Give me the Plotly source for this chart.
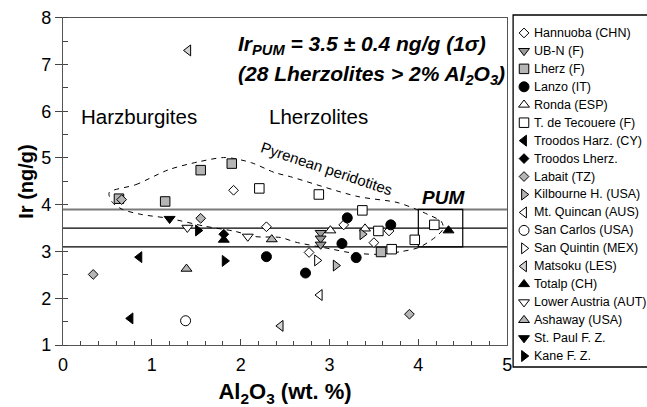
import plotly.graph_objects as go

# ---- Ir (ng/g) versus Al2O3 (wt. %) for mantle peridotites ----
HANNUOBA_AL = [1.92, 2.29, 3.16, 3.67, 3.50, 2.77]
HANNUOBA_IR = [4.31, 3.53, 3.57, 3.44, 3.19, 2.98]
UBN_AL = [2.90, 2.90, 2.90]
UBN_IR = [3.40, 3.28, 3.15]
LHERZ_AL = [0.63, 1.15, 1.55, 1.90, 3.58]
LHERZ_IR = [4.13, 4.07, 4.74, 4.88, 2.99]
LANZO_AL = [3.20, 3.69, 3.14, 2.29, 3.30, 2.73]
LANZO_IR = [3.72, 3.57, 3.17, 2.89, 2.87, 2.54]
RONDA_AL = [3.01, 3.40]
RONDA_IR = [3.45, 3.49]
TECOUERE_AL = [2.21, 2.88, 3.37, 3.55, 3.70, 3.96, 4.18]
TECOUERE_IR = [4.35, 4.22, 3.88, 3.44, 3.05, 3.25, 3.57]
TROODOS_HARZ_AL = [0.86, 0.76]
TROODOS_HARZ_IR = [2.88, 1.57]
TROODOS_LHERZ_AL = [1.81]
TROODOS_LHERZ_IR = [3.37]
LABAIT_AL = [0.66, 1.55, 0.34, 3.90]
LABAIT_IR = [4.11, 3.71, 2.51, 1.66]
KILBOURNE_AL = [3.37, 3.07]
KILBOURNE_IR = [3.37, 2.70]
MT_QUINCAN_AL = [2.89]
MT_QUINCAN_IR = [2.07]
SAN_CARLOS_AL = [1.38]
SAN_CARLOS_IR = [1.52]
SAN_QUINTIN_AL = [2.86]
SAN_QUINTIN_IR = [2.81]
MATSOKU_AL = [1.41, 2.45]
MATSOKU_IR = [7.30, 1.41]
TOTALP_AL = [1.81, 4.34]
TOTALP_IR = [3.25, 3.45]
LOWER_AUSTRIA_AL = [1.40, 2.08]
LOWER_AUSTRIA_IR = [3.51, 3.32]
ASHAWAY_AL = [2.35, 1.39]
ASHAWAY_IR = [3.26, 2.63]
ST_PAUL_AL = [1.20]
ST_PAUL_IR = [3.70]
KANE_AL = [1.52, 1.82]
KANE_IR = [3.45, 2.80]

# Primitive upper mantle estimate
PUM_IR = 3.5
PUM_SIGMA = 0.4
PUM_N = 28
PUM_AL_RANGE = [4.0, 4.5]

# Hand-drawn outline around the Pyrenean peridotites (closed loop)
PYRENEAN_AL = [0.52, 0.82, 1.19, 1.53, 1.83, 2.12, 2.38, 2.56, 3.31, 3.76, 3.98,
               4.11, 4.26, 4.28, 4.20, 4.01, 3.81, 3.53, 3.22, 3.03, 2.62, 2.45,
               2.16, 1.94, 1.60, 1.19, 0.89, 0.67, 0.556, 0.52]
PYRENEAN_IR = [4.26, 4.43, 4.75, 4.92, 5.01, 4.90, 4.69, 4.60, 4.18, 4.05, 3.90,
               3.79, 3.64, 3.49, 3.32, 3.09, 3.00, 2.94, 2.98, 3.05, 3.20, 3.30,
               3.32, 3.43, 3.54, 3.71, 3.79, 3.90, 4.05, 4.26]

X_TICKS = [0, 1, 2, 3, 4, 5]
Y_TICKS = [1, 2, 3, 4, 5, 6, 7, 8]

GRAY = "#b5b5b5"
WHITE = "white"
BLACK = "black"

# name, x, y, symbol, fill, size
SERIES = [
    ("Hannuoba (CHN)", HANNUOBA_AL, HANNUOBA_IR, "diamond", WHITE, 7.5),
    ("UB-N (F)", UBN_AL, UBN_IR, "triangle-down", "#9a9a9a", 9.5),
    ("Lherz (F)", LHERZ_AL, LHERZ_IR, "square", GRAY, 9.5),
    ("Lanzo (IT)", LANZO_AL, LANZO_IR, "circle", BLACK, 10),
    ("Ronda (ESP)", RONDA_AL, RONDA_IR, "triangle-up", WHITE, 9.5),
    ("T. de Tecouere (F)", TECOUERE_AL, TECOUERE_IR, "square", WHITE, 9.5),
    ("Troodos Harz. (CY)", TROODOS_HARZ_AL, TROODOS_HARZ_IR, "triangle-left", BLACK, 9.5),
    ("Troodos Lherz.", TROODOS_LHERZ_AL, TROODOS_LHERZ_IR, "diamond", BLACK, 7.5),
    ("Labait (TZ)", LABAIT_AL, LABAIT_IR, "diamond", GRAY, 7.5),
    ("Kilbourne H. (USA)", KILBOURNE_AL, KILBOURNE_IR, "triangle-right", GRAY, 9.5),
    ("Mt. Quincan (AUS)", MT_QUINCAN_AL, MT_QUINCAN_IR, "triangle-left", WHITE, 9.5),
    ("San Carlos (USA)", SAN_CARLOS_AL, SAN_CARLOS_IR, "circle", WHITE, 10),
    ("San Quintin (MEX)", SAN_QUINTIN_AL, SAN_QUINTIN_IR, "triangle-right", WHITE, 9.5),
    ("Matsoku (LES)", MATSOKU_AL, MATSOKU_IR, "triangle-left", "#d4d4d4", 9.5),
    ("Totalp (CH)", TOTALP_AL, TOTALP_IR, "triangle-up", BLACK, 9.5),
    ("Lower Austria (AUT)", LOWER_AUSTRIA_AL, LOWER_AUSTRIA_IR, "triangle-down", WHITE, 9.5),
    ("Ashaway (USA)", ASHAWAY_AL, ASHAWAY_IR, "triangle-up", GRAY, 9.5),
    ("St. Paul F. Z.", ST_PAUL_AL, ST_PAUL_IR, "triangle-down", BLACK, 9.5),
    ("Kane F. Z.", KANE_AL, KANE_IR, "triangle-right", BLACK, 9.5),
]

FONT = "Liberation Sans, Arial, Helvetica, sans-serif"

# ---- page geometry (pixels) ----
W, H = 647, 407
ML, MT, MB = 63, 15, 39
PAPER_W = W - ML
PAPER_H = H - MT - MB
PLOT_RIGHT = 511
PLOT_TOP, PLOT_BOTTOM = 17.7, 346
KEY_LEFT = 517
KEY_MARK_X, KEY_TEXT_X = 528, 536
KEY_ROW0, KEY_STEP = 33, 18
Y_TITLE_X = 26


def px_x(p):
    return (p - ML) / PAPER_W


def px_y(p):
    return (H - MB - p) / PAPER_H


fig = go.Figure()

# dashed outline of the Pyrenean field
fig.add_trace(go.Scatter(
    x=PYRENEAN_AL, y=PYRENEAN_IR, mode="lines",
    line=dict(color="black", width=1, dash="5px,5px", shape="spline", smoothing=0.8),
    hoverinfo="skip", showlegend=False))

for name, xs, ys, sym, fill, size in SERIES:
    fig.add_trace(go.Scatter(
        x=xs, y=ys, mode="markers", name=name, showlegend=False,
        marker=dict(symbol=sym, size=size, color=fill,
                    line=dict(color="black", width=1))))

annotations = []

# key: one marker per series on its own hidden axes, labels beside them
for i, (name, xs, ys, sym, fill, size) in enumerate(SERIES):
    row = KEY_ROW0 - MT + KEY_STEP * i
    fig.add_trace(go.Scatter(
        x=[KEY_MARK_X - KEY_LEFT], y=[row], mode="markers", xaxis="x2", yaxis="y2",
        showlegend=False, hoverinfo="skip", cliponaxis=False,
        marker=dict(symbol=sym, size=size, color=fill,
                    line=dict(color="black", width=1))))
    annotations.append(dict(
        x=px_x(KEY_TEXT_X), y=px_y(KEY_ROW0 + KEY_STEP * i), xref="paper", yref="paper",
        text=name, showarrow=False, xanchor="left", yanchor="middle",
        font=dict(family=FONT, size=12.5, color="black")))

lo, hi = PUM_IR - PUM_SIGMA, PUM_IR + PUM_SIGMA
shapes = [
    dict(type="line", xref="x", yref="y", x0=X_TICKS[0], x1=X_TICKS[-1], y0=hi, y1=hi,
         line=dict(color="#7a7a7a", width=2), layer="below"),
    dict(type="line", xref="x", yref="y", x0=X_TICKS[0], x1=X_TICKS[-1], y0=PUM_IR, y1=PUM_IR,
         line=dict(color="black", width=1.2), layer="below"),
    dict(type="line", xref="x", yref="y", x0=X_TICKS[0], x1=X_TICKS[-1], y0=lo, y1=lo,
         line=dict(color="black", width=1.2), layer="below"),
    dict(type="rect", xref="x", yref="y", x0=PUM_AL_RANGE[0], x1=PUM_AL_RANGE[1], y0=lo, y1=hi,
         line=dict(color="black", width=1.2), layer="below"),
    dict(type="rect", xref="paper", yref="paper", x0=px_x(KEY_LEFT), x1=1.02,
         y0=0, y1=1, line=dict(color="black", width=1.3)),
]

annotations += [
    dict(x=1.95, y=7.42, xref="x", yref="y", xanchor="left", yanchor="middle",
         text=f"<b><i>Ir<sub>PUM</sub> = {PUM_IR} ± {PUM_SIGMA} ng/g (1σ)</i></b>",
         showarrow=False, font=dict(family=FONT, size=21, color="black")),
    dict(x=1.95, y=6.78, xref="x", yref="y", xanchor="left", yanchor="middle",
         text=f"<b><i>({PUM_N} Lherzolites &gt; 2% Al<sub>2</sub>O<sub>3</sub>)</i></b>",
         showarrow=False, font=dict(family=FONT, size=21, color="black")),
    dict(x=0.86, y=5.88, xref="x", yref="y", xanchor="center", yanchor="middle",
         text="Harzburgites", showarrow=False,
         font=dict(family=FONT, size=20.5, color="black")),
    dict(x=2.88, y=5.88, xref="x", yref="y", xanchor="center", yanchor="middle",
         text="Lherzolites", showarrow=False,
         font=dict(family=FONT, size=20.5, color="black")),
    dict(x=2.97, y=4.78, xref="x", yref="y", xanchor="center", yanchor="middle",
         text="Pyrenean peridotites", showarrow=False,
         textangle=18.5, font=dict(family=FONT, size=15, color="black")),
    dict(x=4.28, y=4.15, xref="x", yref="y", xanchor="center", yanchor="middle",
         text="<b><i>PUM</i></b>", showarrow=False,
         font=dict(family=FONT, size=19, color="black")),
    # y-axis title
    dict(x=px_x(Y_TITLE_X), y=px_y((PLOT_TOP + PLOT_BOTTOM) / 2), xref="paper", yref="paper",
         xanchor="center", yanchor="middle", textangle=-90,
         text="<b>Ir (ng/g)</b>", showarrow=False,
         font=dict(family=FONT, size=20, color="black")),
]

fig.update_layout(
    width=W, height=H, autosize=False,
    margin=dict(l=ML, r=0, t=MT, b=MB, pad=0),
    paper_bgcolor="white", plot_bgcolor="white",
    font=dict(family=FONT, color="black"),
    shapes=shapes, annotations=annotations,
    xaxis=dict(domain=[0, px_x(PLOT_RIGHT)], range=[X_TICKS[0], X_TICKS[-1]],
               tickvals=X_TICKS, ticks="inside", ticklen=6, tickwidth=1, tickcolor="#444",
               minor=dict(dtick=0.2, ticks="inside", ticklen=4, tickcolor="#444"),
               showline=True, linecolor="#555", linewidth=1.3, mirror=True,
               showgrid=False, zeroline=False, ticklabelstandoff=3,
               tickfont=dict(family=FONT, size=18, color="black"),
               title=dict(text="<b>Al<sub>2</sub>O<sub>3</sub> (wt. %)</b>", standoff=17,
                          font=dict(family=FONT, size=22, color="black"))),
    yaxis=dict(domain=[px_y(PLOT_BOTTOM), px_y(PLOT_TOP)], range=[Y_TICKS[0], Y_TICKS[-1]],
               tickvals=Y_TICKS, ticks="outside", ticklen=7, tickwidth=1, tickcolor="#444",
               minor=dict(dtick=0.5, ticks="inside", ticklen=5, tickcolor="#444"),
               showline=True, linecolor="#555", linewidth=1.3, mirror=True,
               showgrid=False, zeroline=False,
               tickfont=dict(family=FONT, size=18, color="black")),
    xaxis2=dict(domain=[px_x(KEY_LEFT), 1], range=[0, W - KEY_LEFT], anchor="y2",
                visible=False, fixedrange=True),
    yaxis2=dict(domain=[0, 1], range=[PAPER_H, 0], anchor="x2",
                visible=False, fixedrange=True),
)

fig.write_html("out.html")
